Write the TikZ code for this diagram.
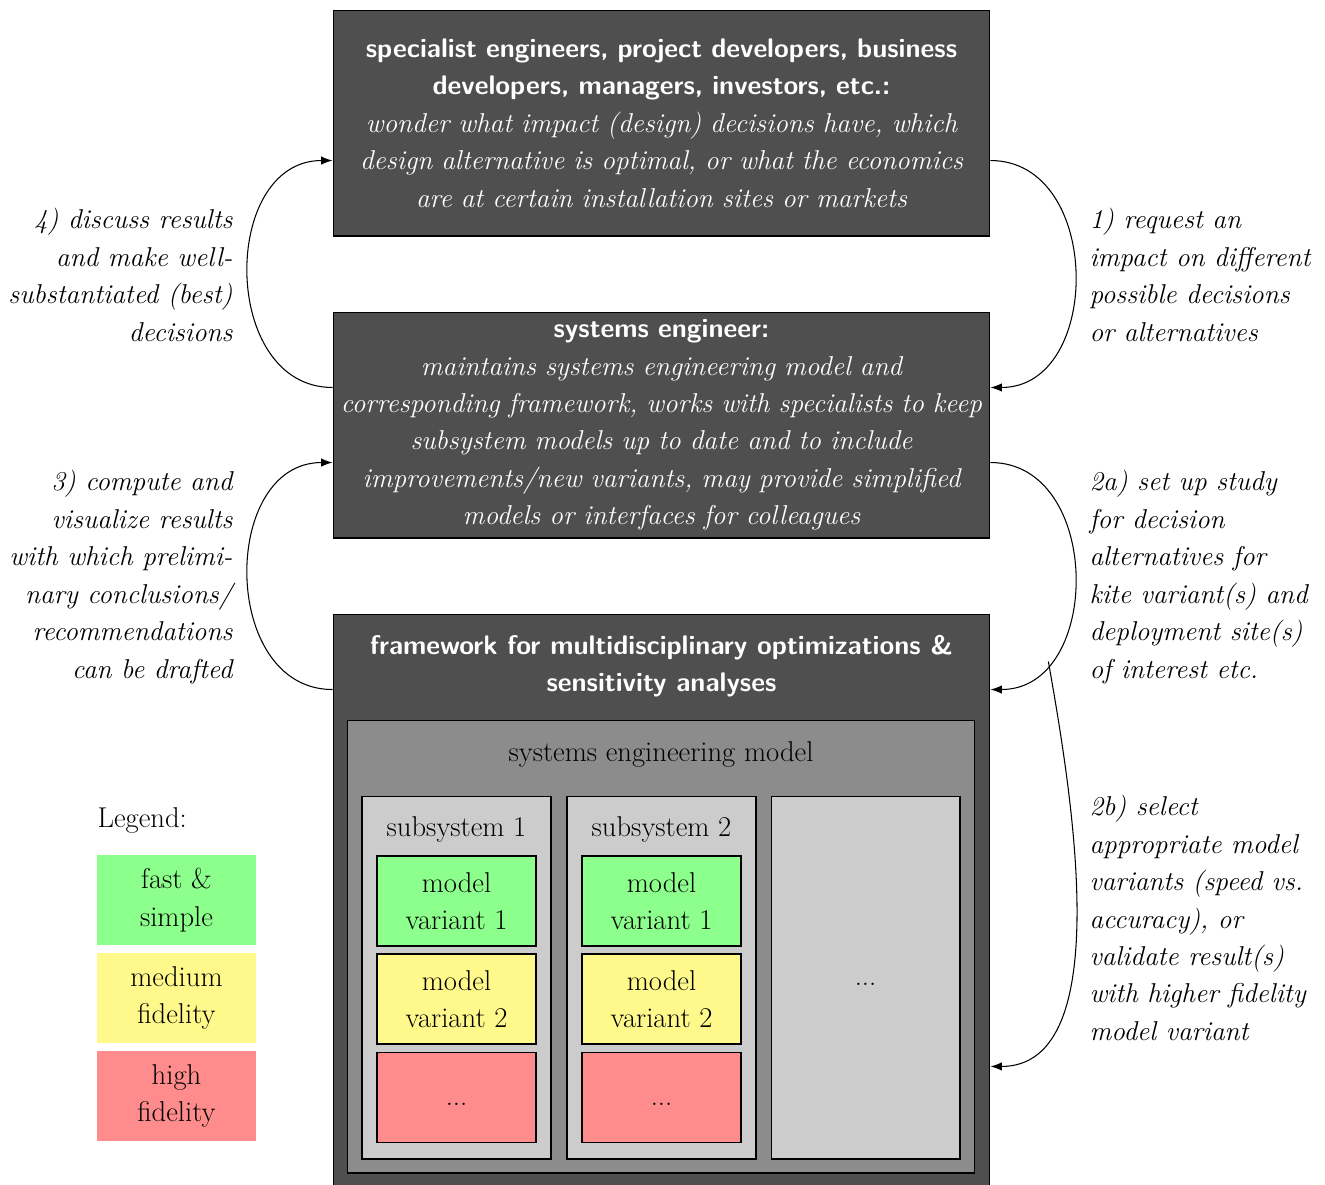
\documentclass[tikz,border=0pt]{standalone}
\usetikzlibrary{arrows.meta}
\newcommand{\figfont}{\fontsize{15.5}{21.3}\selectfont}
\newcommand{\plainfont}{\fontsize{16.3}{21.3}\selectfont}
\newcommand{\headfont}{\fontsize{15.3}{21.3}\selectfont\sffamily\bfseries}
\begin{document}
\begin{tikzpicture}[x=0.02cm,y=0.02cm,>={Latex[length=6.5pt,width=4.8pt]},line width=0.6pt,
  role/.style={draw,fill=black!69,text=white,minimum width=13.14cm,minimum height=4.52cm,text width=13.1cm,align=center,inner sep=0pt,font=\figfont},
  title/.style={text=white,align=center,font=\headfont},
  sub/.style={draw,fill=black!20,minimum width=3.78cm,minimum height=7.26cm},
  variant/.style={draw,fill=#1,minimum width=3.18cm,minimum height=1.8cm,align=center,inner sep=0pt,font=\plainfont},
  key/.style={fill=#1,minimum width=3.18cm,minimum height=1.8cm,align=center,inner sep=0pt,font=\plainfont},
  note/.style={font=\figfont\itshape,inner sep=0pt}]
\useasboundingbox (0,0) rectangle (1325,-1184);
\node[role] (spec) at (661.5,-123) {{\headfont specialist engineers, project developers, business\\ developers, managers, investors, etc.:}\\ \itshape wonder what impact (design) decisions have, which\\ design alternative is optimal, or what the economics\\ are at certain installation sites or markets};
\node[role] (se) at (661.5,-425) {{\headfont systems engineer:}\\ \itshape maintains systems engineering model and\\ corresponding framework, works with specialists to keep\\ subsystem models up to date and to include\\ improvements/new variants, may provide simplified\\ models or interfaces for colleagues};
\node[role,minimum height=11.48cm] (fw) at (661.5,-901) {};
\node[title] (fwtitle) at (661.5,-666) {framework for multidisciplinary optimizations \&\\ sensitivity analyses};
\node[draw,fill=black!45,minimum width=12.56cm,minimum height=9.06cm] (sem) at (661,-946.5) {};
\node[font=\plainfont] (semtitle) at (661,-754) {systems engineering model};
\node[sub] (sub1) at (456.5,-977.5) {};
\node[sub] (sub2) at (661.5,-977.5) {};
\node[sub,font=\plainfont] (sub3) at (865.5,-977.5) {\strut...};
\node[font=\plainfont] (sub1title) at (456.5,-829) {subsystem 1};
\node[font=\plainfont] (sub2title) at (661.5,-829) {subsystem 2};
\node[variant=green!45] (mv11) at (456.5,-901) {model\\ variant 1};
\node[variant=yellow!45] (mv12) at (456.5,-999) {model\\ variant 2};
\node[variant=red!45] (mv13) at (456.5,-1097.5) {\strut...};
\node[variant=green!45] (mv21) at (661.5,-901) {model\\ variant 1};
\node[variant=yellow!45] (mv22) at (661.5,-999) {model\\ variant 2};
\node[variant=red!45] (mv23) at (661.5,-1097.5) {\strut...};
\node[font=\plainfont,anchor=west,inner sep=0pt] (legend) at (97,-820) {Legend:};
\node[key=green!45] (fast) at (176.5,-900) {fast \&\\ simple};
\node[key=yellow!45] (medium) at (176.5,-998) {medium\\ fidelity};
\node[key=red!45] (high) at (176.5,-1096) {high\\ fidelity};
\node[note,anchor=east,align=right] (n4) at (233,-275) {4) discuss results\\ and make well-\\ substantiated (best)\\ decisions};
\node[note,anchor=east,align=right] (n3) at (233,-577) {3) compute and\\ visualize results\\ with which prelimi-\\ nary conclusions/\\ recommendations\\ can be drafted};
\node[note,anchor=west,align=left] (n1) at (1089,-275) {1) request an\\ impact on different\\ possible decisions\\ or alternatives};
\node[note,anchor=west,align=left] (n2a) at (1089,-577) {2a) set up study\\ for decision\\ alternatives for\\ kite variant(s) and\\ deployment site(s)\\ of interest etc.};
\node[note,anchor=west,align=left] (n2b) at (1089,-918) {2b) select\\ appropriate model\\ variants (speed vs.\\ accuracy), or\\ validate result(s)\\ with higher fidelity\\ model variant};
\draw[->] ([yshift=1.52cm]spec.south east) to[out=0,in=0,looseness=1.27] ([yshift=-1.52cm]se.north east);
\draw[->] ([yshift=1.52cm]se.south east) to[out=0,in=0,looseness=1.27] coordinate[pos=0.78] (fork) ([yshift=-1.52cm]fw.north east);
\draw[->] (fork) to[out=-80,in=0,looseness=0.8] ([yshift=-9.06cm]fw.north east);
\draw[->] ([yshift=-1.52cm]fw.north west) to[out=180,in=180,looseness=1.27] ([yshift=1.52cm]se.south west);
\draw[->] ([yshift=-1.52cm]se.north west) to[out=180,in=180,looseness=1.27] ([yshift=1.52cm]spec.south west);
\end{tikzpicture}
\end{document}
